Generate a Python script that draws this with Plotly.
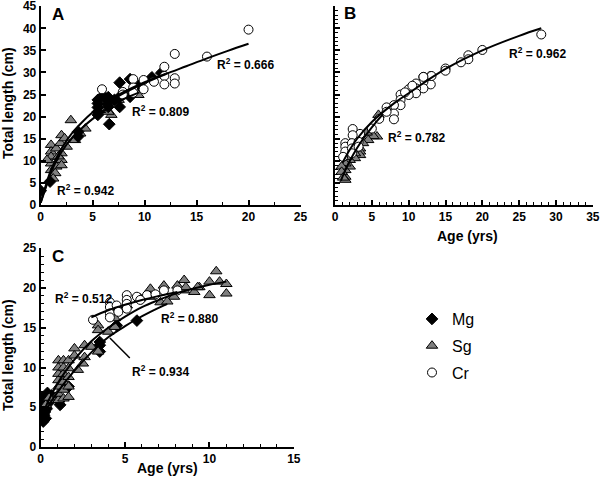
import plotly.graph_objects as go

FONT = "Liberation Sans, Arial, sans-serif"

# ---------------- Panel A data ----------------
a_mg_x = [0, 0.9, 3.6, 3.6, 5.5, 5.5, 5.5, 5.5, 5.5, 6.5, 6.5, 6.5, 6.6, 7.6, 7.6, 7.6, 8.6, 8.6, 10.7, 11.6, 9.5, 7.1, 6.0]
a_mg_y = [3.2, 5.3, 15.5, 16.6, 23.8, 23.0, 22.1, 21.1, 20.4, 24.4, 23.4, 22.2, 18.3, 27.7, 22.2, 24.5, 28.5, 24.5, 28.9, 29.9, 27.1, 23.8, 24.8]
a_sg_x = [1, 1, 1, 1, 1, 0.6, 1.5, 1.5, 1.4, 1.9, 2, 2, 2, 2, 2.3, 2.5, 2.9, 3.3, 3.8, 4.3, 6.8, 6.5, 7.5, 8.4, 9.4, 5.7, 1.2, 1.7]
a_sg_y = [13.6, 12.1, 10.9, 9.4, 7.9, 10.2, 12.8, 8.7, 7.2, 14, 15.8, 11.7, 10.2, 9, 15.1, 13.2, 19.2, 14.7, 16.2, 17.3, 20.4, 21.1, 23.8, 24.9, 24.9, 21.5, 6.0, 11.0]
a_cr_x = [20, 16, 12.9, 11.9, 11.9, 11.9, 12.9, 12.9, 10.9, 9.9, 9.9, 8.9, 8.9, 7.9, 5.9, 8.9, 7.9]
a_cr_y = [39.7, 33.6, 34.2, 31.3, 29.2, 27.3, 28.7, 27.5, 27.9, 28.3, 26.2, 28.5, 26.6, 25.6, 26.2, 25.4, 25.0]
a_fit_sg_x = [0, 0.5, 1, 2, 3, 4, 5, 6, 7, 8, 9.5]
a_fit_sg_y = [0.5, 4, 7.5, 12, 15.2, 17.5, 19.5, 21.2, 22.7, 24, 25.5]
a_fit_mg_x = [0, 0.5, 1, 2, 3, 4, 5, 6, 7, 8, 10, 12]
a_fit_mg_y = [0.5, 4.5, 8, 12.8, 16.2, 18.8, 21, 22.8, 24.3, 25.6, 27.8, 29.7]
a_fit_cr_x = [6, 8, 10, 12, 14, 16, 18, 20]
a_fit_cr_y = [22.5, 25.3, 27.6, 29.6, 31.4, 33.2, 34.9, 36.5]

# ---------------- Panel B data ----------------
b_cr_x = [28, 20, 18.1, 18.1, 17.1, 15, 15, 13, 13, 12, 12, 12, 11, 11, 11, 10, 10, 8.9, 8.9, 8.9, 8, 8, 8, 7, 7, 5, 3.4, 2.4, 2.4, 1.4, 1.4, 1.4, 2.3, 2.3, 2.3, 1.1, 3.2, 3.2, 9.5, 10.5, 6, 13.1, 12]
b_cr_y = [38.6, 35.1, 33.9, 33.0, 32.3, 30.9, 30.4, 29.2, 27.3, 29.0, 27.9, 26.4, 27.5, 26.4, 25.3, 26.2, 24.9, 25, 23.8, 22.6, 22.6, 20.7, 19.4, 22.1, 21.1, 17.3, 16.1, 17.2, 15.8, 14, 13.2, 12.1, 14, 12.8, 11.7, 10.9, 14.3, 13.2, 25.5, 27, 19.5, 29.2, 29.0]
b_sg_x = [5.9, 5.7, 5.2, 4.5, 3.8, 3.4, 3.4, 3.4, 2.7, 2.7, 2.0, 2.0, 1.4, 1.4, 1.4, 1.4, 0.9, 0.9, 1.6, 4.3, 3.0, 1.1]
b_sg_y = [20.4, 15.5, 15.6, 14.7, 14.0, 12.8, 12.1, 11.3, 11.7, 10.6, 10.2, 8.7, 9.4, 7.9, 6.4, 5.7, 8.7, 7.5, 10.9, 16.4, 13.5, 6.2]
b_fit_cr_x = [1, 2, 3, 5, 8, 10, 15, 20, 25, 28]
b_fit_cr_y = [9.5, 12.5, 15.0, 18.8, 23.0, 25.3, 30.8, 35.0, 38.3, 40.0]
b_fit_sg_x = [0.8, 1.5, 2.5, 3.5, 4.5, 5.5, 6.5]
b_fit_sg_y = [5.5, 8.3, 11.5, 14.2, 16.5, 18.6, 20.5]

# ---------------- Panel C data ----------------
c_mg_x = [0.05, 0.1, 0.15, 0.2, 0.25, 0.3, 0.05, 0.1, 0.2, 0.35, 0.45, 0.4, 0.65, 1.15, 1.15, 1.65, 3.5, 3.5, 3.5, 4.5, 5.7, 0.15, 0.3]
c_mg_y = [4.6, 3.8, 3.2, 4.0, 4.4, 5.0, 5.5, 6.3, 3.5, 4.8, 5.5, 6.8, 6.5, 5.3, 5.9, 7.6, 13.2, 12.8, 12.0, 15.3, 15.9, 5.8, 3.6]
c_sg_x = [0.75, 1.05, 1.05, 1.05, 1.05, 1.05, 1.05, 1.05, 1.35, 1.35, 1.35, 1.35, 1.35, 1.35,
          1.65, 1.65, 1.65, 1.65, 1.65, 2.0, 2.0, 2.2, 2.6, 2.6, 2.5, 3.0, 3.4, 3.4, 3.4, 4.0, 4.4, 4.4,
          4.6, 5.1, 5.9, 6.5, 6.5, 7.1, 7.3, 7.9, 8.1, 8.5, 8.5, 9.1, 9.4, 10.0, 10.0, 10.4, 10.6, 11.0, 11.0,
          7.5, 8.6, 9.3, 0.3, 0.5]
c_sg_y = [5.9, 5.9, 6.7, 7.6, 8.4, 9.2, 10.0, 10.9, 6.1, 7.2, 8.2, 9.2, 10.0, 10.9,
          6.3, 7.6, 8.8, 9.9, 10.9, 12.4, 11.5, 9.7, 12.8, 11.3, 10.5, 12.6, 15.3, 14.7, 12.0, 14.5, 16.2, 15.1,
          17.4, 17.8, 18.7, 19.9, 18.9, 18.2, 20.3, 18.9, 20.3, 21.0, 19.7, 19.5, 20.1, 20.8, 19.1, 22.1, 20.8, 20.5, 19.3,
          18.3, 20.1, 20.1, 5.3, 6.2]
c_cr_x = [3.1, 4.1, 4.1, 4.1, 4.1, 4.5, 5.1, 5.1, 5.1, 5.1, 5.7, 6.3, 7.3, 8.1, 4.6, 5.9, 6.8]
c_cr_y = [16, 18.2, 17.6, 16.8, 16.3, 17.8, 19.1, 18.5, 18, 17.4, 18.9, 19.1, 19.7, 19.7, 17, 18.5, 19.2]
c_fit_cr_x = [3, 4, 5, 6, 7, 8.1]
c_fit_cr_y = [16.3, 17.2, 17.9, 18.5, 19.0, 19.5]
c_fit_sg_x = [0, 0.5, 1, 1.5, 2, 3, 4, 5, 6, 7, 8, 9, 10, 11]
c_fit_sg_y = [3.5, 6, 8, 9.6, 11, 13.3, 15, 16.4, 17.6, 18.5, 19.3, 19.9, 20.4, 20.8]
c_fit_mg_x = [0, 0.5, 1, 2, 3, 4, 5, 5.7, 6.5, 7.5]
c_fit_mg_y = [3.5, 5.3, 6.9, 9.6, 11.9, 13.8, 15.2, 16.1, 17.0, 18.0]

styles = {
    "Mg": dict(symbol="diamond", size=9, color="black", line=dict(color="black", width=1)),
    "Sg": dict(symbol="triangle-up", size=10, color="#7f7f7f", line=dict(color="black", width=1)),
    "Cr": dict(symbol="circle", size=9, color="white", line=dict(color="black", width=1)),
}

fig = go.Figure()

def add_pts(x, y, sp, xa, ya, show):
    fig.add_trace(go.Scatter(x=x, y=y, mode="markers", marker=styles[sp], name=sp,
                             legendgroup=sp, showlegend=show, xaxis=xa, yaxis=ya))

def add_fit(x, y, xa, ya):
    fig.add_trace(go.Scatter(x=x, y=y, mode="lines", line=dict(color="black", width=2, shape="spline"),
                             showlegend=False, xaxis=xa, yaxis=ya, hoverinfo="skip"))

# Panel A
add_pts(a_sg_x, a_sg_y, "Sg", "x", "y", False)
add_pts(a_mg_x, a_mg_y, "Mg", "x", "y", False)
add_pts(a_cr_x, a_cr_y, "Cr", "x", "y", False)
add_fit(a_fit_sg_x, a_fit_sg_y, "x", "y")
add_fit(a_fit_mg_x, a_fit_mg_y, "x", "y")
add_fit(a_fit_cr_x, a_fit_cr_y, "x", "y")
# Panel B
add_pts(b_sg_x, b_sg_y, "Sg", "x2", "y2", False)
add_pts(b_cr_x, b_cr_y, "Cr", "x2", "y2", False)
add_fit(b_fit_cr_x, b_fit_cr_y, "x2", "y2")
add_fit(b_fit_sg_x, b_fit_sg_y, "x2", "y2")
# Panel C
add_pts(c_mg_x, c_mg_y, "Mg", "x3", "y3", True)
add_pts(c_sg_x, c_sg_y, "Sg", "x3", "y3", True)
add_pts(c_cr_x, c_cr_y, "Cr", "x3", "y3", True)
add_fit(c_fit_cr_x, c_fit_cr_y, "x3", "y3")
add_fit(c_fit_sg_x, c_fit_sg_y, "x3", "y3")
add_fit(c_fit_mg_x, c_fit_mg_y, "x3", "y3")

W, H = 602, 484
def px_x(p): return p / W
def px_y(p): return 1 - p / H

tickfont = dict(family=FONT, size=12, color="black", weight="bold")

def axis(domain, rng, dtick, minor_dtick, labels=True, anchor=None):
    d = dict(domain=domain, range=rng, dtick=dtick, tick0=0, showline=True, linecolor="black",
             linewidth=2, ticks="inside", ticklen=5, tickwidth=1.5, tickcolor="black",
             showgrid=False, zeroline=False, showticklabels=labels, tickfont=tickfont,
             ticklabeloverflow="allow",
             anchor=anchor, fixedrange=True, automargin=False)
    if minor_dtick:
        d["minor"] = dict(dtick=minor_dtick, tick0=0, ticks="inside", ticklen=3, tickcolor="black", tickwidth=1)
    return d

fig.update_layout(
    width=W, height=H, margin=dict(l=0, r=0, t=0, b=0, autoexpand=False),
    plot_bgcolor="white", paper_bgcolor="white", showlegend=True,
    xaxis=axis([px_x(40.7), px_x(300.7)], [0, 25.02], 5, 2.5, anchor="y"),
    yaxis=axis([px_y(205), px_y(6)], [0, 45.05], 5, None, anchor="x"),
    xaxis2=axis([px_x(335), px_x(593)], [0, 35.02], 5, 1, anchor="y2"),
    yaxis2=axis([px_y(205), px_y(6)], [0, 45.05], 5, 1, labels=False, anchor="x2"),
    xaxis3=axis([px_x(40.7), px_x(294.2)], [0, 15.02], 5, 1, anchor="y3"),
    yaxis3=axis([px_y(447), px_y(248)], [0, 25.03], 5, 1, anchor="x3"),
    legend=dict(x=px_x(412), y=px_y(302), xanchor="left", yanchor="top",
                font=dict(family=FONT, size=16, color="black"),
                traceorder="grouped", tracegroupgap=3, bgcolor="rgba(0,0,0,0)"),
)

ann = []
def lab(text, x, y, xref, yref, size=12, xanchor="left"):
    ann.append(dict(text="<b>" + text + "</b>", x=x, y=y, xref=xref, yref=yref, showarrow=False,
                    xanchor=xanchor, yanchor="middle", font=dict(family=FONT, size=size, color="black")))

# R^2 labels
lab("R<sup>2</sup> = 0.942", 1.4, 3.4, "x", "y")
lab("R<sup>2</sup> = 0.809", 8.6, 21.3, "x", "y")
lab("R<sup>2</sup> = 0.666", 16.8, 31.9, "x", "y")
lab("R<sup>2</sup> = 0.962", 23.3, 34.4, "x2", "y2")
lab("R<sup>2</sup> = 0.782", 6.9, 15.4, "x2", "y2")
lab("R<sup>2</sup> = 0.512", 0.7, 18.7, "x3", "y3")
lab("R<sup>2</sup> = 0.880", 7.0, 16.2, "x3", "y3")
lab("R<sup>2</sup> = 0.934", 5.3, 9.5, "x3", "y3")
# panel letters
lab("A", 0.9, 43.2, "x", "y", size=17)
lab("B", 0.9, 43.4, "x2", "y2", size=17)
lab("C", 0.55, 24.0, "x3", "y3", size=17)
# axis titles
lab("Age (yrs)", px_x(467), px_y(236), "paper", "paper", size=14, xanchor="center")
lab("Age (yrs)", px_x(167), px_y(468), "paper", "paper", size=14, xanchor="center")
for yc in (103, 355):
    ann.append(dict(text="<b>Total length (cm)</b>", x=px_x(8), y=px_y(yc), xref="paper", yref="paper",
                    showarrow=False, textangle=-90, xanchor="center", yanchor="middle",
                    font=dict(family=FONT, size=14, color="black")))
fig.update_layout(annotations=ann)

# pointer line for R^2 = 0.934
fig.add_shape(type="line", x0=4.1, y0=13.7, x1=5.28, y1=11.2, xref="x3", yref="y3",
              line=dict(color="black", width=1.5))

fig.write_html("out.html", config={"displayModeBar": False},
               post_script="document.body.style.margin='0';document.body.style.padding='0';")
